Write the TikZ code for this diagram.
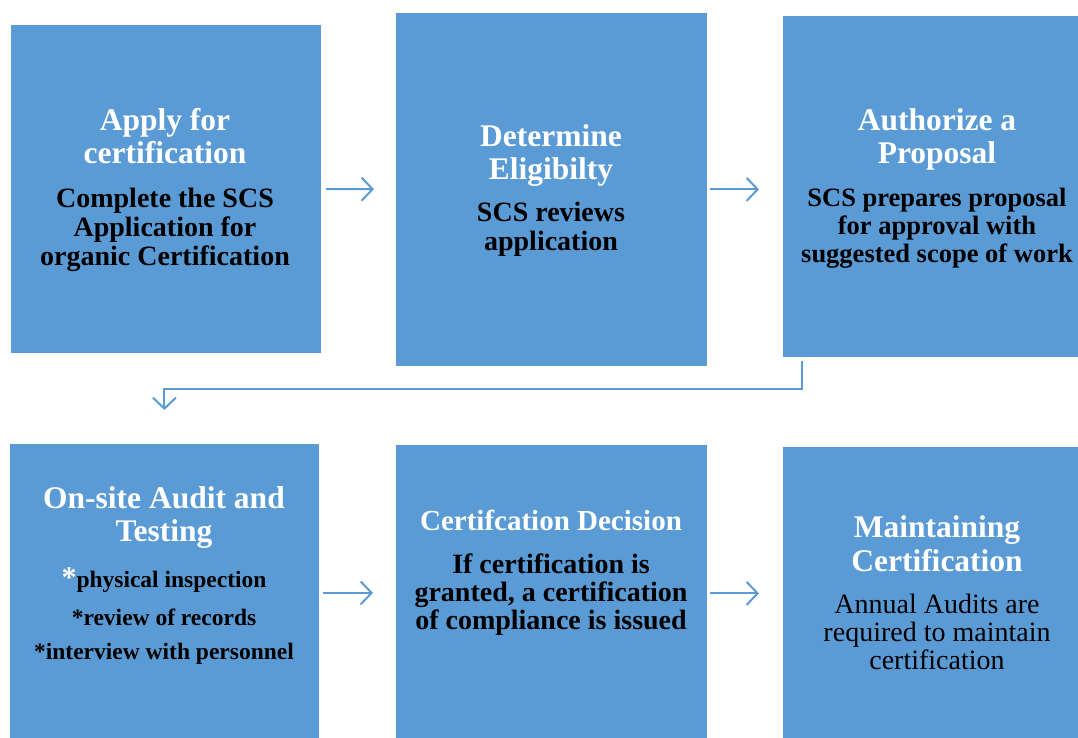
\documentclass[tikz,border=0pt]{standalone}
\usepackage{fontspec}
\setmainfont{Liberation Serif}
\usetikzlibrary{arrows.meta,positioning}
\definecolor{cblue}{HTML}{5B9BD5}

\begin{document}
\begin{tikzpicture}[x=1pt,y=-1pt,
  box/.style={draw=white,line width=0.8pt,fill=cblue,anchor=north west,inner sep=0pt},
  ttl/.style={anchor=base,align=center,inner sep=0pt,text=white,font=\bfseries\fontsize{31.5}{33}\selectfont},
  txt/.style={anchor=base,align=center,inner sep=0pt,text=black,font=\bfseries\fontsize{28}{29}\selectfont},
  arr/.style={draw=cblue,line width=2pt,-{Straight Barb[length=11pt,width=23pt]}}]
  \useasboundingbox (0,0) rectangle (1078,738);

  % first row of steps
  \node[box,minimum width=311pt,minimum height=329pt] (apply) at (10,24) {};
  \node[box,minimum width=312pt,minimum height=354pt] (elig) at (395,12) {};
  \node[box,minimum width=296pt,minimum height=342pt] (auth) at (782,15) {};

  % texts sit on the baseline of their last line
  \node[ttl] (applyttl) at (165,164) {Apply for\\certification};
  \node[txt] (applytxt) at (165,265) {Complete the SCS\\Application for\\organic Certification};
  \node[ttl] (eligttl) at (551,180) {Determine\\Eligibilty};
  \node[txt] (eligtxt) at (551,250) {SCS reviews\\application};
  \node[ttl] (authttl) at (937,164) {Authorize a\\Proposal};
  \node[txt,font=\bfseries\fontsize{26.5}{28}\selectfont] (authtxt) at (937,262)
      {SCS prepares proposal\\for approval with\\suggested scope of work};

  % second row of steps
  \node[box,minimum width=310pt,minimum height=295pt] (audit) at (9,443) {};
  \node[box,minimum width=312pt,minimum height=294pt] (decis) at (395,444) {};
  \node[box,minimum width=296pt,minimum height=292pt] (maint) at (782,446) {};

  \node[ttl] (auditttl) at (164,541) {On-site Audit and\\Testing};
  \node[txt,font=\bfseries\fontsize{23.5}{25}\selectfont] (audittxt) at (164,659)
      {{\color{white}\fontsize{30}{30}\selectfont*}physical inspection\\[13pt]*review of records\\[9pt]*interview with personnel};
  \node[ttl,font=\bfseries\fontsize{29}{30}\selectfont] (decisttl) at (551,530) {Certifcation Decision};
  \node[txt,font=\bfseries\fontsize{28}{28}\selectfont] (decistxt) at (551,629)
      {If certification is\\granted, a certification\\of compliance is issued};
  \node[ttl,font=\bfseries\fontsize{31.5}{34}\selectfont] (maintttl) at (937,571) {Maintaining\\Certification};
  \node[txt,font=\fontsize{28}{28}\selectfont] (mainttxt) at (937,669)
      {Annual Audits are\\required to maintain\\certification};

  % connectors
  \draw[arr,shorten <=4pt,shorten >=21pt] (apply) -- (elig);
  \draw[arr,shorten <=2pt,shorten >=23pt] (elig.east) -- (elig.east -| auth.west);
  \draw[arr,shorten <=3pt,shorten >=33pt] ([xshift=20pt]auth.south west) -- ++(0,31) -| (audit.north);
  \draw[arr,shorten <=3pt,shorten >=22pt] ([yshift=-2pt]audit.east) -- ([yshift=-2pt]audit.east -| decis.west);
  \draw[arr,shorten <=2pt,shorten >=23pt] ([yshift=-2pt]decis.east) -- ([yshift=-2pt]decis.east -| maint.west);
\end{tikzpicture}
\end{document}
